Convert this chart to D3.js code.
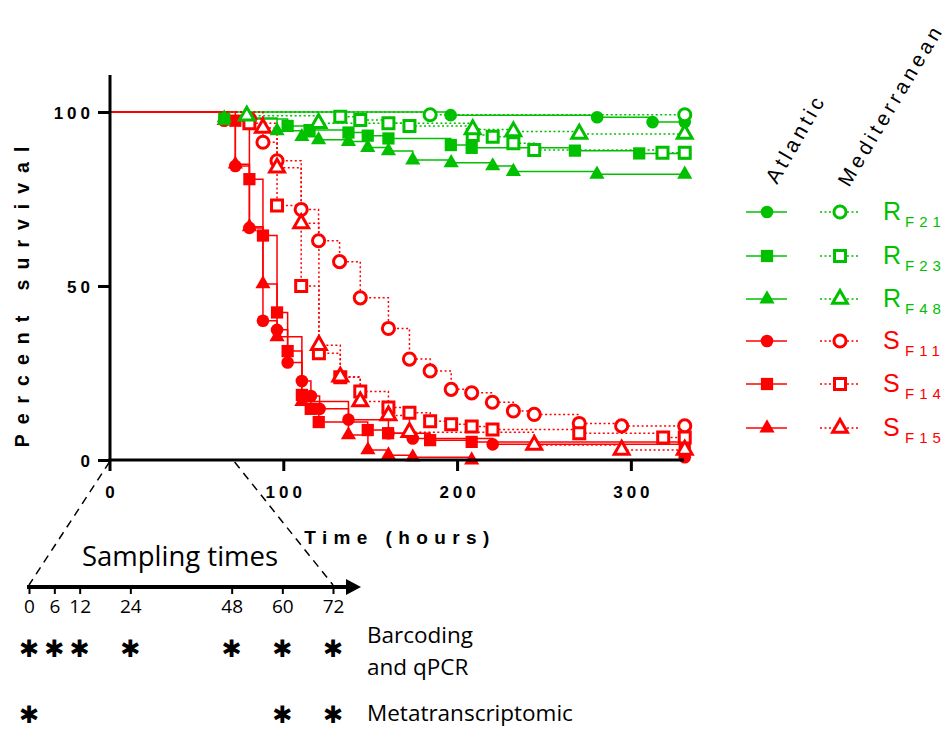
<!DOCTYPE html>
<html>
<head>
<script src="https://d3js.org/d3.v7.min.js"></script>
<style>
body { margin: 0; background: #fff; }
svg { display: block; }
.axlab { font-family: "Liberation Sans", Arial, sans-serif; font-weight: bold; }
.cal { font-family: "Open Sans", "Liberation Sans", sans-serif; }
.ast { font-family: "DejaVu Sans", sans-serif; }
</style>
</head>
<body>
<script>

// survival data, [time (hours), percent survival]
var rF21_atl = [[0,100],[196.3,99.1],[280.6,98.5],[312.5,97.1],[331,97.1]];
var rF23_atl = [[0,100],[66,98],[102.5,96],[115.1,94.8],[137.5,94.1],[148.6,93.2],[160.5,92.4],[196.4,90.5],[208.4,89.7],[267.8,88.9],[304.8,88.1],[331,88.1]];
var rF48_atl = [[0,100],[66,98.3],[96.4,94.6],[110.7,92.9],[120.3,92],[137.5,91.5],[148.6,89.8],[160.5,88.8],[174.5,86.2],[196.6,85.4],[220.5,84.5],[232.4,82.9],[280.5,82.1],[331,82.1]];
var sF11_atl = [[0,100],[66,97.5],[72.4,84.5],[80.5,66.7],[88.3,40],[96.4,37.4],[102.5,28],[110.7,22.7],[115.9,18.4],[120.9,14.7],[137.5,11.6],[160.5,7.7],[174.5,6.2],[220.5,4.5],[331,0.8]];
var sF14_atl = [[0,100],[72.4,97.5],[80.5,80.7],[88.3,64.5],[96.4,42.4],[102.5,31.3],[110.7,18.7],[115.8,14.7],[120.4,10.9],[148.6,8.6],[160.3,7.7],[184.5,5.7],[208.4,5.2],[331,4.8]];
var sF15_atl = [[0,100],[66,97.5],[72.4,85],[80.5,67],[88.3,50.6],[96.4,35.4],[110.7,16.8],[137.5,7.2],[148.7,2.9],[160.5,1.4],[174.5,0.8],[208.4,0]];

var rF21_med = [[0,100],[184.5,99.2],[331,99.2]];
var rF23_med = [[0,100],[132.8,98.6],[144.3,97.7],[160.5,96.8],[172.6,96],[209,93.4],[220.5,92.9],[232.4,91],[244.4,89.1],[318.2,88.3],[331,88.3]];
var rF48_med = [[0,100],[79,98.9],[120.3,96.8],[209,95],[232.4,94.4],[270.3,93.7],[331,93.7]];
var sF11_med = [[0,100],[80.5,98],[88.3,91.3],[96.4,86],[110.3,72],[120.3,63],[132.4,57],[144.3,46.6],[160.5,37.8],[172.6,29],[184.5,25.6],[196.6,20.3],[208.4,19.3],[220.3,16.6],[232.4,14.1],[244.4,13.1],[270.3,10.5],[294.7,9.8],[331,9.8]];
var sF14_med = [[0,100],[80.5,96.8],[96.4,73.1],[110.3,50],[120.5,30.7],[132.8,23.8],[144.3,19.7],[160.5,15.1],[172.6,13.6],[184.5,11.1],[196.6,10.3],[208.4,9.6],[220.4,8.8],[270.3,7.7],[318.6,6.5],[331,6.5]];
var sF15_med = [[0,100],[88.3,95.4],[96.4,84],[110.3,68],[120.5,33],[132.8,23.9],[144.3,16.8],[160.5,12.8],[172.6,8],[244.4,4.3],[294.7,2.9],[331,2.9]];

var legendLetters = ["R", "R", "R", "S", "S", "S"];
var legendSubs = ["F21", "F23", "F48", "F11", "F14", "F15"];
var xTicks = [0, 100, 200, 300];
var yTicks = [0, 50, 100];

var samplingHours = [0, 6, 12, 24, 48, 60, 72];
var barcodingHours = [0, 6, 12, 24, 48, 60, 72];
var metaHours = [0, 60, 72];

var GREEN = "#00c000", RED = "#ff0000";

var series = [
  {d: rF21_atl, c: GREEN, shape: "circle", open: false},
  {d: rF23_atl, c: GREEN, shape: "square", open: false},
  {d: rF48_atl, c: GREEN, shape: "triangle", open: false},
  {d: rF21_med, c: GREEN, shape: "circle", open: true},
  {d: rF23_med, c: GREEN, shape: "square", open: true},
  {d: rF48_med, c: GREEN, shape: "triangle", open: true},
  {d: sF11_atl, c: RED, shape: "circle", open: false},
  {d: sF14_atl, c: RED, shape: "square", open: false},
  {d: sF15_atl, c: RED, shape: "triangle", open: false},
  {d: sF11_med, c: RED, shape: "circle", open: true},
  {d: sF14_med, c: RED, shape: "square", open: true},
  {d: sF15_med, c: RED, shape: "triangle", open: true}
];

var svg = d3.select("body").append("svg")
    .attr("width", 951)
    .attr("height", 730);

var x = d3.scaleLinear().domain([0, 330]).range([109.5, 683]);
var y = d3.scaleLinear().domain([0, 100]).range([460, 112]);

function symbolFor(shape, open) {
  var type = shape == "circle" ? d3.symbolCircle : shape == "square" ? d3.symbolSquare : d3.symbolTriangle;
  var size;
  if (open) size = shape == "circle" ? 115 : shape == "square" ? 121 : 95;
  else size = shape == "circle" ? 125 : shape == "square" ? 150 : 100;
  return d3.symbol().type(type).size(size)();
}

function drawMarker(g, shape, open, c, px, py) {
  g.append("path")
    .attr("d", symbolFor(shape, open))
    .attr("transform", "translate(" + px + "," + py + ")")
    .attr("fill", open ? "#fff" : c)
    .attr("stroke", c)
    .attr("stroke-width", open ? 3 : 0);
}

var line = d3.line()
    .x(function(d) { return x(d[0]); })
    .y(function(d) { return y(d[1]); })
    .curve(d3.curveStepAfter);

// curves
var plot = svg.append("g");
series.forEach(function(s) {
  plot.append("path")
    .datum(s.d)
    .attr("d", line)
    .attr("fill", "none")
    .attr("stroke", s.c)
    .attr("stroke-width", 1.5)
    .attr("stroke-dasharray", s.open ? "2,2.5" : null);
});
// markers (red first so green sits on top in the crowded corner)
[6,7,8,9,10,11,0,1,2,3,4,5].forEach(function(i) {
  var s = series[i];
  s.d.slice(1).forEach(function(p) {
    drawMarker(plot, s.shape, s.open, s.c, x(p[0]), y(p[1]));
  });
});

// axes
svg.append("line").attr("x1", 110).attr("x2", 110).attr("y1", 75).attr("y2", 461.5)
  .attr("stroke", "#000").attr("stroke-width", 3);
svg.append("line").attr("x1", 108.5).attr("x2", 684).attr("y1", 460).attr("y2", 460)
  .attr("stroke", "#000").attr("stroke-width", 3);

var yAxis = svg.append("g")
    .attr("transform", "translate(110,0)")
    .call(d3.axisLeft(y).tickValues(yTicks).tickSize(12).tickPadding(4).tickFormat(d3.format("d")));
yAxis.select(".domain").remove();
yAxis.selectAll("line").attr("stroke-width", 3);
yAxis.selectAll("text").attr("class", "axlab").style("font-size", "17px")
  .style("letter-spacing", "4px").attr("dy", "0.36em");

var xAxis = svg.append("g")
    .attr("transform", "translate(0,460)")
    .call(d3.axisBottom(x).tickValues(xTicks).tickSize(11).tickPadding(15).tickFormat(d3.format("d")));
xAxis.select(".domain").remove();
xAxis.selectAll("line").attr("stroke-width", 3);
xAxis.selectAll("text").attr("class", "axlab").style("font-size", "17px")
  .style("letter-spacing", "4px").attr("dx", "2px");

svg.append("text").attr("class", "axlab")
  .attr("x", 400).attr("y", 544)
  .attr("text-anchor", "middle")
  .style("font-size", "19px").style("letter-spacing", "6.4px")
  .text("Time (hours)");

svg.append("text").attr("class", "axlab")
  .attr("transform", "translate(29,292) rotate(-90)")
  .attr("text-anchor", "middle")
  .style("font-size", "19.5px").style("letter-spacing", "10px")
  .text("Percent survival");

// legend
svg.append("text")
  .attr("transform", "translate(777,185) rotate(-60)")
  .style("font-family", "Liberation Sans")
  .style("font-size", "21px").style("letter-spacing", "3.8px")
  .text("Atlantic");
svg.append("text")
  .attr("transform", "translate(849,188) rotate(-59)")
  .style("font-family", "Liberation Sans")
  .style("font-size", "20.5px").style("letter-spacing", "4.1px")
  .text("Mediterranean");

var shapes = ["circle", "square", "triangle", "circle", "square", "triangle"];
var rowsY = [212, 256, 299, 341, 384, 428];
legendLetters.forEach(function(l, i) {
  var c = i < 3 ? GREEN : RED;
  var ry = rowsY[i];
  var lg = svg.append("g");
  lg.append("line").attr("x1", 746).attr("x2", 787).attr("y1", ry).attr("y2", ry)
    .attr("stroke", c).attr("stroke-width", 1.5);
  drawMarker(lg, shapes[i], false, c, 767, ry);
  lg.append("line").attr("x1", 820).attr("x2", 860).attr("y1", ry).attr("y2", ry)
    .attr("stroke", c).attr("stroke-width", 1.5).attr("stroke-dasharray", "2,2.5");
  drawMarker(lg, shapes[i], true, c, 840, ry);
  lg.append("text").attr("x", 883).attr("y", ry + 8)
    .style("font-family", "Liberation Sans").style("font-size", "25px")
    .attr("fill", c).text(l);
  lg.append("text").attr("x", 905).attr("y", ry + 15)
    .style("font-family", "Liberation Sans").style("font-size", "15px")
    .style("letter-spacing", "5px")
    .attr("fill", c).text(legendSubs[i]);
});

// sampling times inset
var sx = d3.scaleLinear().domain([0, 72]).range([29, 333]);
var axisY = 587;

svg.append("line").attr("x1", x(0)).attr("y1", 462).attr("x2", sx(0)).attr("y2", axisY - 2)
  .attr("stroke", "#000").attr("stroke-width", 1.5).attr("stroke-dasharray", "8,6");
svg.append("line").attr("x1", x(72)).attr("y1", 462).attr("x2", sx(72)).attr("y2", axisY - 2)
  .attr("stroke", "#000").attr("stroke-width", 1.5).attr("stroke-dasharray", "8,6");

svg.append("line").attr("x1", 27).attr("x2", 348).attr("y1", axisY).attr("y2", axisY)
  .attr("stroke", "#000").attr("stroke-width", 4);
svg.append("path")
  .attr("d", "M346," + (axisY - 8) + "L361," + axisY + "L346," + (axisY + 8) + "Z")
  .attr("fill", "#000");

var sg = svg.append("g").attr("transform", "translate(0," + axisY + ")")
  .call(d3.axisBottom(sx).tickValues(samplingHours).tickSize(7).tickPadding(6));
sg.select(".domain").remove();
sg.selectAll("line").attr("stroke-width", 2);
sg.selectAll("text").attr("class", "cal").style("font-size", "19px").attr("fill", "#000");

svg.append("text").attr("class", "cal")
  .attr("x", 180).attr("y", 566).attr("text-anchor", "middle")
  .style("font-size", "27.5px").text("Sampling times");

svg.selectAll(".ast1").data(barcodingHours).enter().append("text")
  .attr("class", "ast ast1")
  .attr("x", function(d) { return sx(d); }).attr("y", 657)
  .attr("text-anchor", "middle")
  .style("font-size", "24px")
  .text("\u2731");
svg.selectAll(".ast2").data(metaHours).enter().append("text")
  .attr("class", "ast ast2")
  .attr("x", function(d) { return sx(d); }).attr("y", 723)
  .attr("text-anchor", "middle")
  .style("font-size", "24px")
  .text("\u2731");

svg.append("text").attr("class", "cal").attr("x", 367).attr("y", 643)
  .style("font-size", "22.5px").text("Barcoding");
svg.append("text").attr("class", "cal").attr("x", 367).attr("y", 675)
  .style("font-size", "22.5px").text("and qPCR");
svg.append("text").attr("class", "cal").attr("x", 367).attr("y", 721)
  .style("font-size", "22.5px").text("Metatranscriptomic");

</script>
</body>
</html>
